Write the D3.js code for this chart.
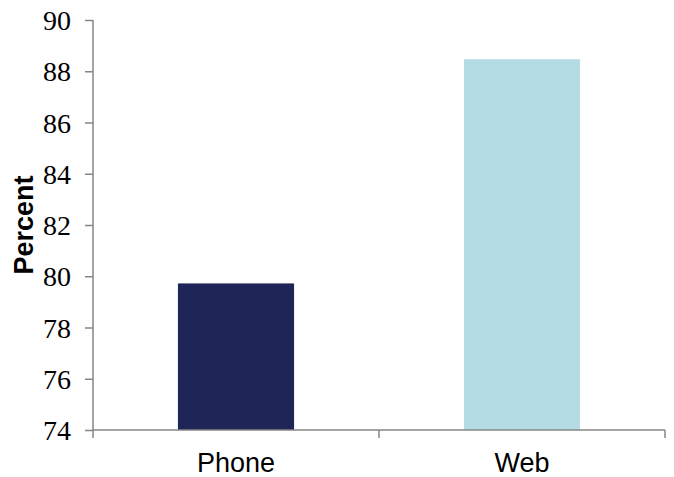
<!DOCTYPE html>
<html><head><meta charset="utf-8">
<script src="https://cdn.jsdelivr.net/npm/d3@7"></script>
<style>body{margin:0;background:#fff}svg{display:block}</style>
</head><body>
<script>
const categories = ["Phone", "Web"];
const values = [79.72, 88.47];
const colors = ["#1f2556", "#b5dce4"];
const yTicks = [74, 76, 78, 80, 82, 84, 86, 88, 90];
const yLabel = "Percent";

const W = 674, H = 477;
const m = {left: 93, right: 9, top: 20, bottom: 47};
const svg = d3.select("body").append("svg").attr("width", W).attr("height", H);

const y = d3.scaleLinear().domain([74, 90]).range([H - m.bottom, m.top]);
const x = d3.scaleBand().domain(categories).range([m.left, W - m.right])
  .paddingInner(0.594).paddingOuter(0.297);
const xb = d3.scaleBand().domain(categories).range([m.left, W - m.right]).padding(0);

// bars
svg.append("g").selectAll("rect").data(categories).join("rect")
  .attr("x", d => x(d)).attr("width", x.bandwidth())
  .attr("y", (d, i) => y(values[i]))
  .attr("height", (d, i) => y(74) - y(values[i]))
  .attr("fill", (d, i) => colors[i]);

const axisColor = "#868686";
// y axis
const ya = svg.append("g").attr("transform", `translate(${m.left},0)`)
  .call(d3.axisLeft(y).tickValues(yTicks).tickSize(8).tickPadding(14).tickFormat(d3.format("d")));
ya.select(".domain").remove();
ya.append("line").attr("x1", 0).attr("x2", 0).attr("y1", y(90)).attr("y2", y(74) + 8)
  .attr("stroke", axisColor).attr("stroke-width", 1.5);
ya.selectAll(".tick line").attr("stroke", axisColor).attr("stroke-width", 1.5);
ya.selectAll(".tick text").attr("font-family", "'Liberation Serif','Times New Roman',serif")
  .attr("font-size", 28).attr("fill", "#000").attr("dy", "0.34em");

// x axis
const xa = svg.append("g").attr("transform", `translate(0,${y(74)})`);
xa.append("line").attr("x1", m.left).attr("x2", W - m.right).attr("y1", 0).attr("y2", 0)
  .attr("stroke", axisColor).attr("stroke-width", 1.5);
const bounds = categories.map(c => xb(c)).concat([xb(categories[categories.length - 1]) + xb.bandwidth()]);
xa.selectAll("line.b").data(bounds.slice(1)).join("line").attr("class", "b")
  .attr("x1", d => d).attr("x2", d => d).attr("y1", 0).attr("y2", 8)
  .attr("stroke", axisColor).attr("stroke-width", 1.5);
xa.selectAll("text").data(categories).join("text")
  .attr("x", d => x(d) + x.bandwidth() / 2).attr("y", 42)
  .attr("text-anchor", "middle")
  .attr("font-family", "'Liberation Sans',Arial,sans-serif").attr("font-size", 27)
  .attr("fill", "#000").text(d => d);

// y label
svg.append("text").attr("transform", `translate(33,${(y(84) + y(80)) / 2}) rotate(-90)`)
  .attr("text-anchor", "middle")
  .attr("font-family", "'Liberation Sans',Arial,sans-serif").attr("font-weight", "bold")
  .attr("font-size", 27).attr("fill", "#000").text(yLabel);
</script>
</body></html>
